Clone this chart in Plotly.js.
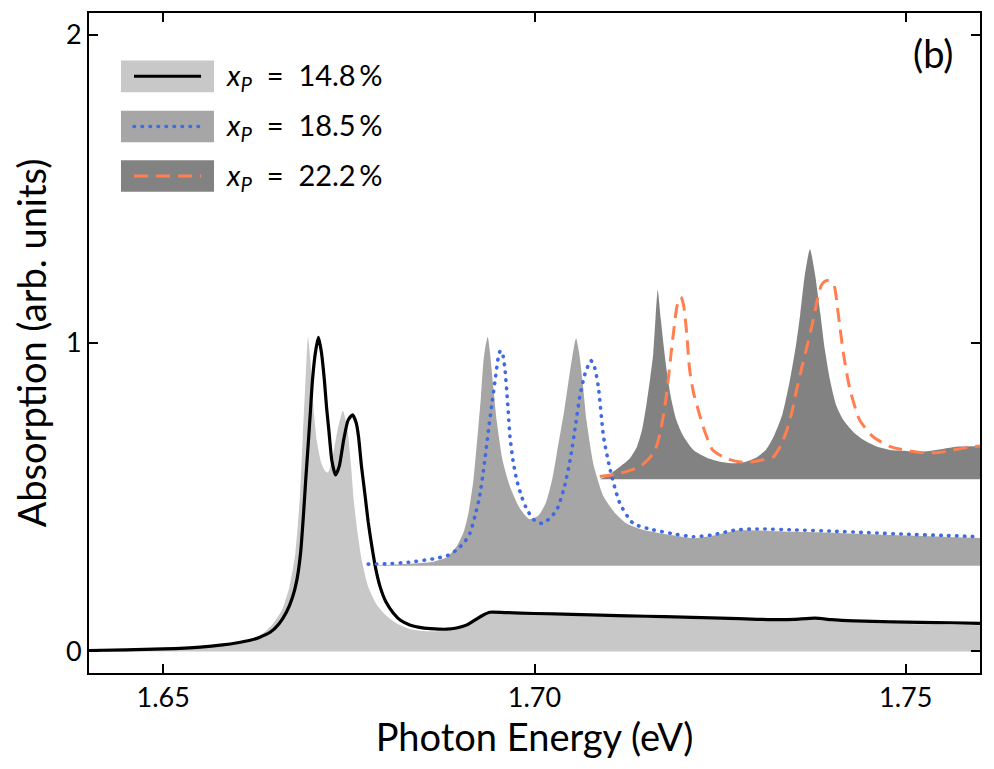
<!DOCTYPE html>
<html>
<head>
<meta charset="utf-8">
<script src="https://cdn.plot.ly/plotly-3.0.1.min.js"></script>
<style>
  html, body { margin: 0; padding: 0; background: #ffffff; }
  #chart { width: 994px; height: 769px; }
</style>
</head>
<body>
<div id="chart"></div>
<script>
// ---------- data ----------
const seriesNames = ["x_P = 14.8 %", "x_P = 18.5 %", "x_P = 22.2 %"];
const offsets = [0, 0.278, 0.558];

// x_P = 14.8 %  : reference spectrum (light-grey fill) and black line
const fill1E = [1.640,1.650,1.655,1.658,1.660,1.662,1.6635,1.6648,1.6660,1.6670,1.6678,1.6684,1.6688,1.6691,1.6693,1.6695,1.6698,1.6702,1.6707,1.6713,1.6718,1.6722,1.6728,1.6735,1.6742,1.6748,1.6753,1.6757,1.6762,1.6767,1.6776,1.6788,1.6801,1.6815,1.6832,1.6850,1.6870,1.6890,1.6905,1.6918,1.6930,1.6940,1.700,1.710,1.720,1.730,1.735,1.7375,1.740,1.745,1.750,1.755,1.760];
const fill1A = [0.0,0.006,0.012,0.019,0.027,0.040,0.060,0.090,0.135,0.210,0.320,0.500,0.700,0.850,0.950,1.020,0.950,0.800,0.680,0.610,0.585,0.580,0.630,0.720,0.780,0.720,0.600,0.480,0.380,0.300,0.210,0.150,0.115,0.090,0.073,0.066,0.065,0.072,0.085,0.105,0.120,0.122,0.118,0.112,0.106,0.100,0.099,0.103,0.098,0.092,0.089,0.087,0.085];

const line1E = [1.640,1.645,1.650,1.655,1.658,1.660,1.6617,1.6630,1.6644,1.6656,1.6666,1.6674,1.6680,1.6685,1.6689,1.6692,1.6695,1.6698,1.6701,1.6705,1.6709,1.6713,1.6717,1.6720,1.6723,1.6727,1.6732,1.6737,1.6743,1.6749,1.6755,1.6760,1.6763,1.6767,1.6772,1.6776,1.6781,1.6786,1.6792,1.6800,1.6810,1.6820,1.6832,1.6845,1.6860,1.6882,1.6895,1.6909,1.6920,1.6931,1.6940,1.6960,1.700,1.705,1.710,1.715,1.720,1.725,1.730,1.733,1.735,1.7378,1.740,1.743,1.748,1.752,1.756,1.760];
const line1A = [0.003,0.005,0.008,0.014,0.021,0.028,0.036,0.046,0.062,0.090,0.128,0.175,0.232,0.320,0.448,0.560,0.664,0.770,0.880,0.970,1.018,0.970,0.880,0.790,0.718,0.620,0.572,0.600,0.686,0.750,0.767,0.740,0.696,0.600,0.502,0.420,0.340,0.270,0.210,0.160,0.124,0.100,0.086,0.078,0.074,0.072,0.076,0.086,0.102,0.118,0.127,0.126,0.123,0.120,0.117,0.114,0.111,0.108,0.104,0.103,0.104,0.108,0.103,0.099,0.096,0.094,0.093,0.091];

// x_P = 18.5 %  : medium-grey fill and blue dotted line
const fill2E = [1.6776,1.680,1.683,1.6864,1.6882,1.6895,1.6905,1.6911,1.6918,1.6924,1.6928,1.6931,1.6934,1.6937,1.6940,1.6944,1.6949,1.6957,1.6967,1.6980,1.6993,1.7005,1.7015,1.7024,1.7030,1.7040,1.7048,1.7053,1.7056,1.7060,1.7065,1.7070,1.7080,1.7093,1.7108,1.7124,1.7145,1.7169,1.7190,1.7214,1.7240,1.7272,1.730,1.735,1.740,1.745,1.750,1.755,1.760];
const fill2A = [0.278,0.280,0.284,0.291,0.305,0.340,0.390,0.448,0.560,0.718,0.830,0.934,0.990,1.020,0.970,0.870,0.750,0.620,0.534,0.465,0.429,0.440,0.480,0.560,0.642,0.780,0.912,0.985,1.015,0.970,0.870,0.750,0.600,0.502,0.450,0.415,0.395,0.383,0.375,0.367,0.375,0.392,0.392,0.388,0.385,0.380,0.376,0.372,0.368];

const line2E = [1.6776,1.680,1.683,1.6868,1.6885,1.6895,1.6905,1.6913,1.6920,1.6926,1.6932,1.6938,1.6943,1.6947,1.6951,1.6954,1.6957,1.6960,1.6964,1.6967,1.6971,1.6976,1.6983,1.6990,1.7000,1.7010,1.7020,1.7030,1.7040,1.7048,1.7055,1.7061,1.7068,1.7076,1.7081,1.7086,1.7093,1.7102,1.7115,1.7133,1.7160,1.7190,1.7214,1.7240,1.7272,1.730,1.735,1.740,1.745,1.750,1.755,1.760];
const line2A = [0.283,0.284,0.289,0.302,0.313,0.329,0.352,0.383,0.440,0.502,0.600,0.718,0.810,0.880,0.950,0.975,0.965,0.920,0.800,0.696,0.620,0.556,0.500,0.459,0.425,0.415,0.430,0.459,0.530,0.621,0.730,0.826,0.900,0.943,0.920,0.858,0.696,0.588,0.480,0.415,0.394,0.380,0.372,0.378,0.394,0.397,0.394,0.390,0.385,0.380,0.376,0.372];

// x_P = 22.2 %  : dark-grey fill and orange dashed line
const fill3E = [1.7088,1.7100,1.7115,1.7128,1.7138,1.7145,1.7151,1.7156,1.7160,1.7163,1.7166,1.7170,1.7174,1.7178,1.7184,1.7191,1.7200,1.7214,1.7232,1.7250,1.7268,1.7285,1.7300,1.7312,1.7322,1.7334,1.7344,1.7352,1.7358,1.7364,1.7371,1.7378,1.7385,1.7391,1.7398,1.7406,1.7416,1.7430,1.7443,1.7460,1.7479,1.7500,1.7524,1.7545,1.7568,1.760];
const fill3A = [0.558,0.572,0.599,0.625,0.664,0.720,0.805,0.890,0.967,1.080,1.172,1.080,0.990,0.912,0.820,0.750,0.700,0.653,0.628,0.615,0.610,0.615,0.630,0.655,0.696,0.770,0.880,0.990,1.096,1.220,1.304,1.220,1.096,0.980,0.880,0.800,0.750,0.710,0.686,0.665,0.653,0.650,0.648,0.655,0.664,0.665];

const line3E = [1.7088,1.7100,1.7115,1.7130,1.7142,1.7152,1.7160,1.7165,1.7169,1.7174,1.7178,1.7181,1.7184,1.7188,1.7192,1.7197,1.7201,1.7205,1.7209,1.7214,1.7218,1.7227,1.7240,1.7258,1.7275,1.7288,1.7305,1.7322,1.7332,1.7340,1.7347,1.7353,1.7360,1.7367,1.7374,1.7380,1.7386,1.7391,1.7396,1.7403,1.7409,1.7416,1.7425,1.7438,1.7456,1.7479,1.7500,1.7524,1.7545,1.7559,1.7580,1.760];
const line3A = [0.567,0.571,0.578,0.588,0.599,0.620,0.642,0.670,0.707,0.770,0.837,0.900,0.967,1.050,1.120,1.149,1.120,1.030,0.912,0.840,0.805,0.729,0.653,0.626,0.615,0.613,0.620,0.631,0.670,0.718,0.780,0.848,0.920,0.988,1.060,1.129,1.185,1.200,1.202,1.190,1.096,0.967,0.848,0.750,0.696,0.664,0.652,0.644,0.645,0.651,0.660,0.666];

const xTicks = [1.65, 1.70, 1.75];
const xTickText = ["1.65", "1.70", "1.75"];
const yTicks = [0, 1, 2];
const yTickText = ["0", "1", "2"];

// ---------- styles ----------
const fillColors = ["#c8c8c8", "#a6a6a6", "#828282"];
const lineColors = ["#000000", "#4169e1", "#ff7f50"];
const lineDash = ["solid", "0.5px,7.5px", "14px,8px"];
const FONT = "Lato, 'DejaVu Sans', sans-serif";
const SM = 0.6;

const traces = [];
traces.push({x: fill1E, y: fill1A, type: "scatter", mode: "lines", fill: "tozeroy",
  fillcolor: fillColors[0], line: {width: 0, shape: "spline", smoothing: SM}, hoverinfo: "skip", showlegend: false});
traces.push({x: [fill2E[0], fill2E[fill2E.length-1]], y: [offsets[1], offsets[1]], type: "scatter", mode: "lines",
  line: {width: 0}, hoverinfo: "skip", showlegend: false});
traces.push({x: fill2E, y: fill2A, type: "scatter", mode: "lines", fill: "tonexty",
  fillcolor: fillColors[1], line: {width: 0, shape: "spline", smoothing: SM}, hoverinfo: "skip", showlegend: false});
traces.push({x: [fill3E[0], fill3E[fill3E.length-1]], y: [offsets[2], offsets[2]], type: "scatter", mode: "lines",
  line: {width: 0}, hoverinfo: "skip", showlegend: false});
traces.push({x: fill3E, y: fill3A, type: "scatter", mode: "lines", fill: "tonexty",
  fillcolor: fillColors[2], line: {width: 0, shape: "spline", smoothing: SM}, hoverinfo: "skip", showlegend: false});
traces.push({x: line1E, y: line1A, type: "scatter", mode: "lines", name: seriesNames[0],
  line: {color: lineColors[0], width: 3.2, dash: lineDash[0], shape: "spline", smoothing: SM}, showlegend: false});
traces.push({x: line2E, y: line2A, type: "scatter", mode: "lines", name: seriesNames[1],
  line: {color: lineColors[1], width: 3.6, dash: lineDash[1], shape: "spline", smoothing: SM}, showlegend: false});
traces.push({x: line3E, y: line3A, type: "scatter", mode: "lines", name: seriesNames[2],
  line: {color: lineColors[2], width: 3, dash: lineDash[2], shape: "spline", smoothing: SM}, showlegend: false});

// ---------- hand-made legend (paper coords) ----------
const legY = [0.904, 0.828, 0.753];
const legX0 = 0.0359, legX1 = 0.1403, legH = 0.024;
const legLx0 = 0.0505, legLx1 = 0.1258;
const legendLabels = ["14.8", "18.5", "22.2"];
const shapes = [];
const annotations = [];
for (let i = 0; i < 3; i++) {
  shapes.push({type: "rect", xref: "paper", yref: "paper", x0: legX0, x1: legX1,
    y0: legY[i] - legH, y1: legY[i] + legH, fillcolor: fillColors[i], line: {width: 0}});
  shapes.push({type: "line", xref: "paper", yref: "paper", x0: legLx0, x1: legLx1,
    y0: legY[i], y1: legY[i], line: {color: lineColors[i], width: i === 1 ? 3.6 : 3, dash: lineDash[i]}});
  annotations.push({xref: "paper", yref: "paper", x: 0.1515, y: legY[i], xanchor: "left", yanchor: "middle",
    showarrow: false, text: "<i>x</i><sub><i>P</i></sub>  =  " + legendLabels[i] + "\u2009%",
    font: {family: FONT, size: 29, color: "#000"}});
}
annotations.push({xref: "paper", yref: "paper", x: 0.972, y: 0.978, xanchor: "right", yanchor: "top",
  showarrow: false, text: "(b)", font: {family: FONT, size: 38, color: "#000"}});

const axisCommon = {
  showline: true, linecolor: "#000", linewidth: 2, mirror: "ticks",
  ticks: "inside", ticklen: 9, tickwidth: 2, tickcolor: "#000",
  showgrid: false, zeroline: false,
  tickfont: {family: FONT, size: 27, color: "#000"}
};

const layout = {
  width: 994, height: 769,
  margin: {l: 89, r: 14, t: 13, b: 96},
  paper_bgcolor: "#ffffff", plot_bgcolor: "#ffffff",
  showlegend: false,
  xaxis: Object.assign({}, axisCommon, {
    range: [1.64, 1.76], tickvals: xTicks, ticktext: xTickText,
    title: {text: "Photon Energy (eV)", font: {family: FONT, size: 38, color: "#000"}, standoff: 6}
  }),
  yaxis: Object.assign({}, axisCommon, {
    range: [-0.07, 2.07], tickvals: yTicks, ticktext: yTickText,
    title: {text: "Absorption (arb. units)", font: {family: FONT, size: 38, color: "#000"}, standoff: 8}
  }),
  shapes: shapes,
  annotations: annotations
};

Plotly.newPlot("chart", traces, layout, {displayModeBar: false, staticPlot: true}).then(function (gd) {
  // round caps so the dotted line shows round dots
  const lines = gd.querySelectorAll(".scatterlayer .trace .js-line");
  lines.forEach(function (p) {
    if ((p.style.stroke || "").indexOf("65, 105, 225") >= 0) p.style.strokeLinecap = "round";
  });
  gd.querySelectorAll(".shapelayer path").forEach(function (p) {
    if ((p.style.stroke || "").indexOf("65, 105, 225") >= 0) p.style.strokeLinecap = "round";
  });
});
</script>
</body>
</html>
